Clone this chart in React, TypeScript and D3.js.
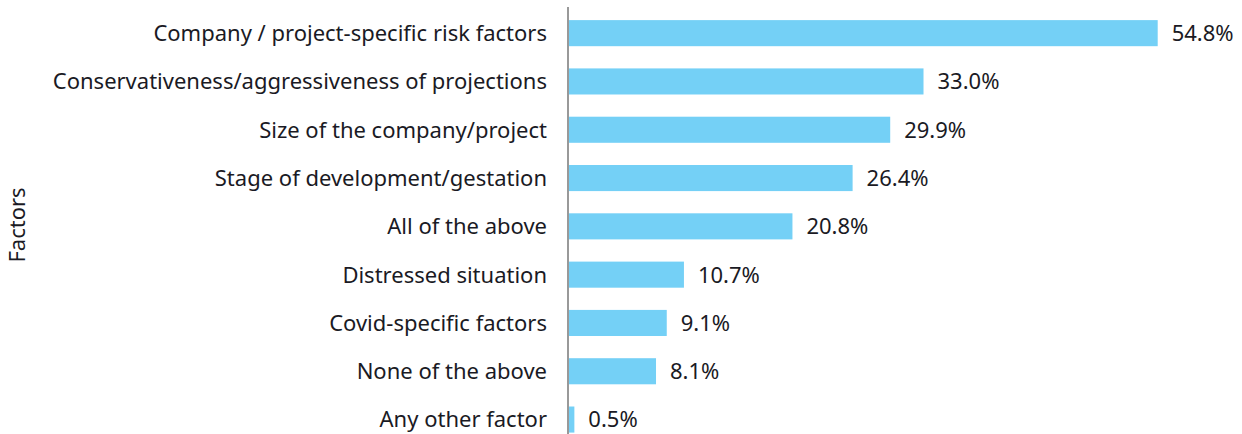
import React from "react";
import * as d3 from "d3";

const categories = [
  "Company / project-specific risk factors",
  "Conservativeness/aggressiveness of projections",
  "Size of the company/project",
  "Stage of development/gestation",
  "All of the above",
  "Distressed situation",
  "Covid-specific factors",
  "None of the above",
  "Any other factor",
];
const values = [54.8, 33.0, 29.9, 26.4, 20.8, 10.7, 9.1, 8.1, 0.5];
const yAxisTitle = "Factors";

const W = 1242;
const H = 434;
const FONT = "'Noto Sans', sans-serif";

export default function App() {
  const x0 = 569;
  const x = d3.scaleLinear().domain([0, 54.8]).range([x0, 1157.7]);
  const y = d3
    .scaleBand<string>()
    .domain(categories)
    .range([9, 9 + 48.3 * categories.length])
    .paddingInner(0.46)
    .paddingOuter(0.23);
  const bw = y.bandwidth();
  return (
    <svg
      width={W}
      height={H}
      style={{ position: "absolute", left: 0, top: 0, background: "#fff" }}
      fontFamily={FONT}
    >
      {categories.map((c, i) => {
        const yy = y(c)!;
        return (
          <g key={c}>
            <rect x={x(0)} y={yy} width={x(values[i]) - x(0)} height={bw} fill="#74d0f6" />
            <text
              x={x0 - 22}
              y={yy + bw / 2}
              dy="0.36em"
              textAnchor="end"
              fontSize={22}
              fill="#1a1a24"
            >
              {c}
            </text>
            <text
              x={x(values[i]) + 14}
              y={yy + bw / 2}
              dy="0.36em"
              fontSize={22}
              fill="#1a1a24"
            >
              {values[i].toFixed(1) + "%"}
            </text>
          </g>
        );
      })}
      <line x1={x0 - 1} x2={x0 - 1} y1={7} y2={H} stroke="#555" strokeWidth={1.2} />
      <text
        transform={`translate(25,225) rotate(-90)`}
        textAnchor="middle"
        fontSize={22}
        fill="#1a1a24"
      >
        {yAxisTitle}
      </text>
    </svg>
  );
}
